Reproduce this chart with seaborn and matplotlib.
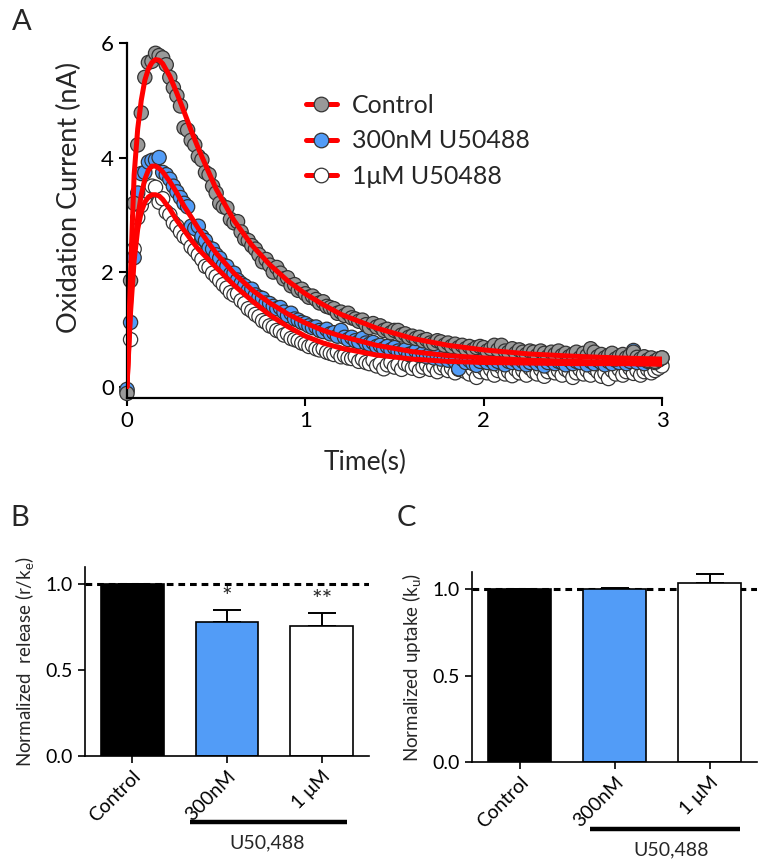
import numpy as np
import pandas as pd
import matplotlib
matplotlib.use("Agg")
import matplotlib.pyplot as plt
import seaborn as sns
from matplotlib.lines import Line2D

# ---------------- data ----------------
time_s = [0.00, 0.02, 0.04, 0.06, 0.08, 0.10, 0.12, 0.14, 0.16, 0.18,
          0.20, 0.22, 0.24, 0.26, 0.28, 0.30, 0.32, 0.34, 0.36, 0.38,
          0.40, 0.42, 0.44, 0.46, 0.48, 0.50, 0.52, 0.54, 0.56, 0.58,
          0.60, 0.62, 0.64, 0.66, 0.68, 0.70, 0.72, 0.74, 0.76, 0.78,
          0.80, 0.82, 0.84, 0.86, 0.88, 0.90, 0.92, 0.94, 0.96, 0.98,
          1.00, 1.02, 1.04, 1.06, 1.08, 1.10, 1.12, 1.14, 1.16, 1.18,
          1.20, 1.22, 1.24, 1.26, 1.28, 1.30, 1.32, 1.34, 1.36, 1.38,
          1.40, 1.42, 1.44, 1.46, 1.48, 1.50, 1.52, 1.54, 1.56, 1.58,
          1.60, 1.62, 1.64, 1.66, 1.68, 1.70, 1.72, 1.74, 1.76, 1.78,
          1.80, 1.82, 1.84, 1.86, 1.88, 1.90, 1.92, 1.94, 1.96, 1.98,
          2.00, 2.02, 2.04, 2.06, 2.08, 2.10, 2.12, 2.14, 2.16, 2.18,
          2.20, 2.22, 2.24, 2.26, 2.28, 2.30, 2.32, 2.34, 2.36, 2.38,
          2.40, 2.42, 2.44, 2.46, 2.48, 2.50, 2.52, 2.54, 2.56, 2.58,
          2.60, 2.62, 2.64, 2.66, 2.68, 2.70, 2.72, 2.74, 2.76, 2.78,
          2.80, 2.82, 2.84, 2.86, 2.88, 2.90, 2.92, 2.94, 2.96, 2.98,
          3.00]

control_nA = [-0.12, 1.85, 3.20, 4.22, 4.78, 5.40, 5.66, 5.68, 5.82, 5.78,
              5.74, 5.62, 5.40, 5.22, 5.08, 4.90, 4.52, 4.48, 4.30, 4.22,
              4.02, 3.96, 3.74, 3.70, 3.50, 3.38, 3.20, 3.14, 3.12, 2.92,
              2.86, 2.88, 2.70, 2.58, 2.55, 2.46, 2.40, 2.30, 2.18, 2.22,
              2.12, 2.00, 2.08, 1.98, 1.88, 1.90, 1.76, 1.78, 1.68, 1.70,
              1.62, 1.56, 1.58, 1.52, 1.46, 1.48, 1.40, 1.38, 1.36, 1.28,
              1.30, 1.24, 1.28, 1.20, 1.18, 1.14, 1.16, 1.08, 1.03, 1.10,
              1.04, 1.06, 0.98, 1.00, 0.94, 0.98, 0.98, 0.90, 0.92, 0.86,
              0.88, 0.84, 0.86, 0.80, 0.82, 0.76, 0.75, 0.80, 0.78, 0.72,
              0.76, 0.70, 0.74, 0.68, 0.72, 0.66, 0.70, 0.64, 0.68, 0.70,
              0.68, 0.62, 0.66, 0.72, 0.64, 0.72, 0.62, 0.60, 0.66, 0.58,
              0.64, 0.60, 0.56, 0.62, 0.60, 0.54, 0.62, 0.58, 0.52, 0.60,
              0.56, 0.62, 0.54, 0.58, 0.52, 0.56, 0.60, 0.50, 0.58, 0.54,
              0.66, 0.60, 0.52, 0.56, 0.50, 0.54, 0.58, 0.48, 0.52, 0.56,
              0.50, 0.54, 0.60, 0.51, 0.48, 0.52, 0.46, 0.50, 0.44, 0.48,
              0.50]

u300nM_nA = [-0.05, 1.12, 2.25, 3.38, 3.72, 3.74, 3.92, 3.95, 3.96, 4.00,
             3.74, 3.70, 3.62, 3.50, 3.40, 3.30, 3.20, 3.14, 2.80, 2.76,
             2.80, 2.62, 2.55, 2.42, 2.40, 2.30, 2.24, 2.12, 2.10, 1.96,
             1.98, 1.86, 1.80, 1.76, 1.68, 1.70, 1.60, 1.56, 1.54, 1.46,
             1.45, 1.40, 1.36, 1.38, 1.30, 1.24, 1.28, 1.18, 1.16, 1.12,
             1.10, 1.06, 1.03, 1.04, 0.98, 0.96, 1.00, 0.92, 0.94, 0.88,
             0.98, 0.86, 0.82, 0.86, 0.80, 0.78, 0.84, 0.76, 0.74, 0.77,
             0.70, 0.72, 0.66, 0.70, 0.64, 0.68, 0.62, 0.60, 0.64, 0.56,
             0.58, 0.62, 0.54, 0.58, 0.52, 0.56, 0.50, 0.54, 0.48, 0.52,
             0.46, 0.50, 0.44, 0.31, 0.48, 0.42, 0.46, 0.40, 0.37, 0.44,
             0.48, 0.42, 0.46, 0.40, 0.44, 0.48, 0.38, 0.44, 0.42, 0.46,
             0.40, 0.44, 0.38, 0.42, 0.46, 0.40, 0.44, 0.36, 0.42, 0.46,
             0.40, 0.44, 0.42, 0.38, 0.46, 0.40, 0.44, 0.42, 0.48, 0.38,
             0.44, 0.40, 0.46, 0.42, 0.38, 0.44, 0.40, 0.46, 0.42, 0.48,
             0.40, 0.44, 0.63, 0.42, 0.46, 0.40, 0.44, 0.48, 0.42, 0.46,
             0.50]

u1uM_nA = [-0.08, 0.82, 2.40, 2.95, 3.16, 3.30, 3.40, 3.50, 3.48, 3.22,
           3.28, 3.05, 3.00, 2.86, 2.80, 2.70, 2.62, 2.58, 2.44, 2.38,
           2.30, 2.22, 2.10, 2.08, 1.98, 1.92, 1.85, 1.78, 1.72, 1.64,
           1.60, 1.62, 1.50, 1.45, 1.36, 1.32, 1.26, 1.22, 1.15, 1.12,
           1.06, 1.04, 0.98, 0.96, 0.90, 0.92, 0.84, 0.82, 0.80, 0.76,
           0.74, 0.70, 0.72, 0.66, 0.64, 0.66, 0.60, 0.58, 0.56, 0.60,
           0.52, 0.54, 0.50, 0.49, 0.52, 0.44, 0.48, 0.42, 0.40, 0.46,
           0.36, 0.40, 0.31, 0.38, 0.42, 0.34, 0.38, 0.30, 0.40, 0.37,
           0.32, 0.36, 0.28, 0.34, 0.38, 0.30, 0.35, 0.26, 0.33, 0.36,
           0.28, 0.32, 0.24, 0.30, 0.34, 0.26, 0.22, 0.30, 0.16, 0.26,
           0.32, 0.24, 0.30, 0.20, 0.28, 0.34, 0.22, 0.26, 0.19, 0.30,
           0.24, 0.28, 0.20, 0.32, 0.26, 0.22, 0.30, 0.18, 0.26, 0.32,
           0.24, 0.28, 0.20, 0.30, 0.26, 0.16, 0.24, 0.30, 0.22, 0.28,
           0.20, 0.32, 0.26, 0.18, 0.24, 0.14, 0.28, 0.22, 0.30, 0.20,
           0.26, 0.32, 0.23, 0.28, 0.20, 0.26, 0.30, 0.24, 0.28, 0.32,
           0.36]

fit_time = [0.00, 0.02, 0.04, 0.06, 0.08, 0.10, 0.12, 0.14, 0.16, 0.18,
            0.20, 0.24, 0.28, 0.32, 0.36, 0.40, 0.45, 0.50, 0.60, 0.70,
            0.80, 0.90, 1.00, 1.10, 1.20, 1.40, 1.60, 1.80, 2.00, 2.25,
            2.50, 2.75, 3.00]
fit_control = [0.00, 2.00, 3.70, 4.50, 5.00, 5.35, 5.55, 5.66, 5.71, 5.70,
               5.64, 5.42, 5.12, 4.80, 4.47, 4.16, 3.80, 3.45, 2.90, 2.47,
               2.13, 1.85, 1.62, 1.43, 1.26, 1.02, 0.84, 0.72, 0.64, 0.57,
               0.53, 0.50, 0.48]
fit_300nM = [0.00, 1.45, 2.35, 2.95, 3.35, 3.62, 3.78, 3.85, 3.85, 3.81,
             3.75, 3.58, 3.38, 3.15, 2.96, 2.76, 2.54, 2.33, 1.98, 1.69,
             1.46, 1.27, 1.11, 0.98, 0.88, 0.72, 0.61, 0.54, 0.50, 0.46,
             0.44, 0.42, 0.41]
fit_1uM = [0.00, 1.30, 2.20, 2.75, 3.05, 3.22, 3.31, 3.35, 3.35, 3.33,
           3.27, 3.10, 2.90, 2.73, 2.56, 2.40, 2.24, 2.08, 1.77, 1.50,
           1.25, 1.05, 0.88, 0.76, 0.67, 0.55, 0.48, 0.44, 0.42, 0.41,
           0.40, 0.40, 0.39]

conditions = ["Control", "300nM U50488", "1\u03bcM U50488"]
groups = ["Control", "300nM", "1 \u03bcM"]
release_mean = [1.00, 0.78, 0.756]
release_sem = [0.00, 0.072, 0.077]
release_stars = ["", "*", "**"]
uptake_mean = [1.00, 1.00, 1.035]
uptake_sem = [0.00, 0.010, 0.052]

# ---------------- style ----------------
GRAY = "#999999"
BLUE = "#529cf7"
EDGE = "#333333"
sns.set_theme(style="ticks")
plt.rcParams["font.family"] = ["Lato", "DejaVu Sans"]
plt.rcParams["mathtext.fontset"] = "custom"
plt.rcParams["mathtext.rm"] = "Lato"

fig = plt.figure(figsize=(7.72, 8.68), dpi=100)

# ---------------- panel A ----------------
axA = fig.add_axes([127 / 772, 1 - 398 / 868, 535 / 772, 355 / 868])
n = len(time_s)
df = pd.DataFrame({
    "time": time_s * 3,
    "current": u1uM_nA + u300nM_nA + control_nA,
    "condition": [conditions[2]] * n + [conditions[1]] * n + [conditions[0]] * n,
})
pal = {conditions[0]: GRAY, conditions[1]: BLUE, conditions[2]: "white"}
sns.scatterplot(data=df, x="time", y="current", hue="condition", palette=pal,
                s=105, edgecolor=EDGE, linewidth=0.9, legend=False, ax=axA,
                clip_on=False, zorder=2)

fit_df = pd.DataFrame({
    "time": fit_time * 3,
    "fit": fit_1uM + fit_300nM + fit_control,
    "condition": [conditions[2]] * len(fit_time) + [conditions[1]] * len(fit_time)
                 + [conditions[0]] * len(fit_time),
})
sns.lineplot(data=fit_df, x="time", y="fit", hue="condition",
             palette={c: "#ff0000" for c in conditions}, linewidth=3.6,
             estimator=None, sort=False, legend=False, ax=axA, zorder=3)

axA.set_xlim(0, 3)
axA.set_ylim(-0.2, 6)
axA.set_xticks([0, 1, 2, 3])
axA.set_yticks([0, 2, 4, 6])
axA.set_xlabel("Time(s)", fontsize=19)
axA.set_ylabel("Oxidation Current (nA)", fontsize=19.5)
axA.xaxis.set_label_coords((365 - 127) / 535, -0.145)
axA.yaxis.set_label_coords(-0.085, (398 - 197) / 355)
axA.tick_params(labelsize=16, length=6, width=1.5, direction="out", colors="black")
for s in ["left", "bottom"]:
    axA.spines[s].set_linewidth(1.6)
    axA.spines[s].set_color("black")
sns.despine(ax=axA)

handles = [Line2D([0], [0], color="#ff0000", lw=3.6, marker="o", markersize=10.5,
                  markerfacecolor=fc, markeredgecolor=EDGE, markeredgewidth=0.9)
           for fc in [GRAY, BLUE, "white"]]
axA.legend(handles, conditions, loc="upper left", bbox_to_anchor=(0.315, 0.885),
           frameon=False, fontsize=18, handlelength=1.25, handletextpad=0.6,
           labelspacing=0.5, borderaxespad=0)

# ---------------- bar panels ----------------
def bar_panel(rect, means, sems, ylabel, stars, line_x, line_y, text_x, text_y):
    ax = fig.add_axes(rect)
    bdf = pd.DataFrame({"group": groups, "value": means})
    ax.axhline(1.0, color="black", lw=2.2, ls=(0, (2.2, 1.6)), zorder=0.5)
    sns.barplot(data=bdf, x="group", y="value", hue="group",
                palette=dict(zip(groups, ["black", BLUE, "white"])),
                saturation=1, edgecolor="black", linewidth=1.2, width=0.66,
                errorbar=None, legend=False, ax=ax, zorder=2)
    xs = np.arange(len(groups))
    ax.errorbar(xs, means, yerr=[np.zeros(len(sems)), sems], fmt="none",
                ecolor="black", elinewidth=1.4, capsize=10, capthick=1.4, zorder=1.5)
    for x, m, e, st in zip(xs, means, sems, stars):
        if st:
            ax.text(x, m + e + 0.005, st, ha="center", va="bottom", fontsize=18)
    ax.set_xlim(-0.5, 2.5)
    ax.set_ylim(0, 1.1)
    ax.set_yticks([0.0, 0.5, 1.0])
    ax.set_yticklabels(["0.0", "0.5", "1.0"])
    ax.set_xlabel("")
    ax.set_ylabel(ylabel, fontsize=13.5, labelpad=6)
    ax.tick_params(axis="y", labelsize=14, length=5, width=1.2, colors="black")
    ax.tick_params(axis="x", labelsize=14, length=5, width=1.2, colors="black")
    for lab in ax.get_xticklabels():
        lab.set_rotation(45)
        lab.set_ha("right")
        lab.set_rotation_mode("anchor")
    for s in ["left", "bottom"]:
        ax.spines[s].set_linewidth(1.2)
        ax.spines[s].set_color("black")
    sns.despine(ax=ax)
    tr = ax.get_xaxis_transform()
    ax.plot(line_x, [line_y, line_y], color="black", lw=3.2, transform=tr,
            clip_on=False, solid_capstyle="butt")
    ax.text(text_x, text_y, "U50,488", transform=tr, ha="center", va="center",
            fontsize=14)
    return ax

axB = bar_panel([85 / 772, 1 - 756 / 868, 284 / 772, 189 / 868], release_mean,
                release_sem, "Normalized  release (r/k$_\\mathregular{e}$)",
                release_stars, [0.61, 2.27], -0.35, 1.42, -0.46)
axC = bar_panel([472 / 772, 1 - 762 / 868, 285 / 772, 190 / 868], uptake_mean,
                uptake_sem, "Normalized uptake (k$_\\mathregular{u}$)",
                ["", "", ""], [0.74, 2.32], -0.353, 1.6, -0.463)

fig.text(12 / 772, 1 - 22 / 868, "A", fontsize=21, ha="left", va="center")
fig.text(10 / 772, 1 - 518 / 868, "B", fontsize=21, ha="left", va="center")
fig.text(397 / 772, 1 - 518 / 868, "C", fontsize=21, ha="left", va="center")

fig.savefig("out.png", dpi=100)
